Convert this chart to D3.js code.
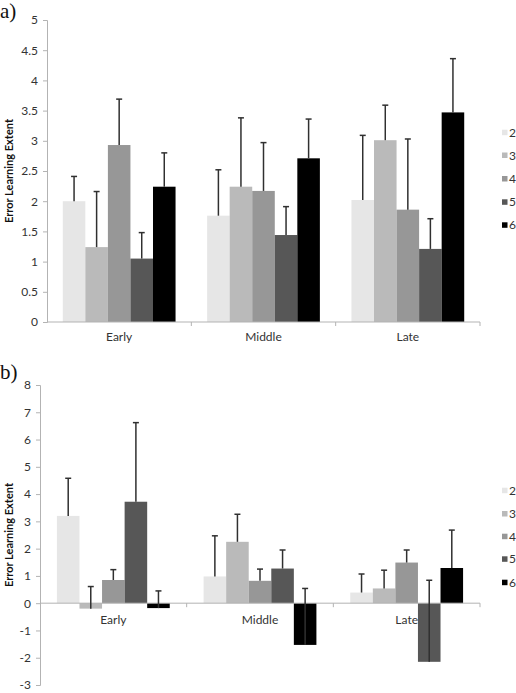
<!DOCTYPE html>
<html>
<head>
<meta charset="utf-8">
<script src="https://cdn.jsdelivr.net/npm/d3@7"></script>
<style>
  html, body { margin: 0; padding: 0; background: #fff; }
  svg { display: block; }
  text { font-family: Lato, "Open Sans", sans-serif; }
</style>
</head>
<body>
<svg id="chart" width="516" height="693"></svg>
<script>
// ---- data ----
const categories = ["Early", "Middle", "Late"];
const seriesNames = ["2", "3", "4", "5", "6"];
const seriesColors = ["#e6e6e6", "#bababa", "#979797", "#575757", "#000000"];

// panel a)
const aMeans2 = [2.00, 1.76, 2.02];
const aMeans3 = [1.24, 2.24, 3.01];
const aMeans4 = [2.93, 2.17, 1.86];
const aMeans5 = [1.05, 1.44, 1.21];
const aMeans6 = [2.24, 2.71, 3.47];
const aErr2 = [0.41, 0.76, 1.07];
const aErr3 = [0.92, 1.14, 0.58];
const aErr4 = [0.76, 0.80, 1.17];
const aErr5 = [0.43, 0.47, 0.50];
const aErr6 = [0.56, 0.65, 0.89];
const aTicks = [0, 0.5, 1, 1.5, 2, 2.5, 3, 3.5, 4, 4.5, 5];

// panel b)
const bMeans2 = [3.20, 0.98, 0.39];
const bMeans3 = [-0.20, 2.25, 0.54];
const bMeans4 = [0.85, 0.82, 1.49];
const bMeans5 = [3.72, 1.27, -2.15];
const bMeans6 = [-0.18, -1.53, 1.29];
const bErr2 = [1.38, 1.49, 0.68];
const bErr3 = [0.81, 1.01, 0.67];
const bErr4 = [0.38, 0.43, 0.46];
const bErr5 = [2.90, 0.68, 2.99];
const bErr6 = [0.63, 2.07, 1.39];
const bTicks = [-3, -2, -1, 0, 1, 2, 3, 4, 5, 6, 7, 8];

const yTitle = "Error Learning Extent";

const svg = d3.select("#chart");

function panel(opts) {
  const { label, labelY, means, errs, ticks, yDomain, yRange, xRange, axisLabelPad, innerPad, catLabelY, legendYs } = opts;
  const g = svg.append("g");

  const x0 = d3.scaleBand().domain(categories).range(xRange).padding(0);
  const x1 = d3.scaleBand().domain(seriesNames).range([0, x0.bandwidth()]).paddingInner(0).paddingOuter(innerPad);
  const y = d3.scaleLinear().domain(yDomain).range(yRange);

  const rows = [];
  seriesNames.forEach((s, si) => {
    categories.forEach((c, ci) => {
      rows.push({ s, si, c, v: means[si][ci], e: errs[si][ci] });
    });
  });

  // panel label
  g.append("text").attr("x", 0).attr("y", labelY)
    .style("font-family", "'Liberation Serif', 'DejaVu Serif', serif")
    .attr("font-size", 21).attr("fill", "#111").text(label);

  // y axis
  const yAxis = d3.axisLeft(y).tickValues(ticks).tickSize(4).tickPadding(axisLabelPad)
    .tickFormat(d => String(d));
  const ya = g.append("g").attr("transform", `translate(${xRange[0]},0)`).call(yAxis);
  ya.select(".domain").attr("stroke", "#b3b3b3").attr("stroke-width", 1);
  ya.selectAll(".tick line").attr("stroke", "#b3b3b3");
  ya.selectAll(".tick text").attr("fill", "#333").attr("font-size", 12)
    .style("font-family", "Lato, 'Open Sans', sans-serif");

  // y title
  const yMid = (yRange[0] + yRange[1]) / 2;
  g.append("text")
    .attr("transform", `translate(13,${yMid}) rotate(-90)`)
    .attr("text-anchor", "middle")
    .attr("font-size", 11).attr("font-weight", "bold").attr("fill", "#111")
    .text(yTitle);

  // bars
  g.append("g").selectAll("rect").data(rows).join("rect")
    .attr("x", d => x0(d.c) + x1(d.s))
    .attr("width", x1.bandwidth())
    .attr("y", d => y(Math.max(0, d.v)))
    .attr("height", d => Math.abs(y(d.v) - y(0)))
    .attr("fill", d => seriesColors[d.si]);

  // x axis line at zero
  const y0 = y(0);
  g.append("line").attr("x1", xRange[0]).attr("x2", xRange[1])
    .attr("y1", y0).attr("y2", y0).attr("stroke", "#b3b3b3").attr("stroke-width", 1);
  // category boundary ticks
  const bounds = categories.slice(1).map(c => x0(c)).concat([xRange[1]]);
  g.append("g").selectAll("line").data(bounds).join("line")
    .attr("x1", d => d).attr("x2", d => d)
    .attr("y1", y0).attr("y2", y0 + 4)
    .attr("stroke", "#b3b3b3");

  // category labels
  g.append("g").selectAll("text").data(categories).join("text")
    .attr("x", d => x0(d) + x0.bandwidth() / 2)
    .attr("y", catLabelY)
    .attr("text-anchor", "middle")
    .attr("font-size", 12).attr("fill", "#333")
    .text(d => d);

  // error bars
  const eg = g.append("g").attr("stroke", "#303030").attr("stroke-width", 1.5);
  const capW = 6;
  rows.forEach(d => {
    const cx = x0(d.c) + x1(d.s) + x1.bandwidth() / 2;
    eg.append("line").attr("x1", cx).attr("x2", cx)
      .attr("y1", y(d.v)).attr("y2", y(d.v + d.e));
    eg.append("line").attr("x1", cx - capW / 2).attr("x2", cx + capW / 2)
      .attr("y1", y(d.v + d.e)).attr("y2", y(d.v + d.e));
  });

  // legend
  const lg = g.append("g");
  seriesNames.forEach((s, i) => {
    lg.append("rect").attr("x", 502).attr("y", legendYs[i] - 3)
      .attr("width", 5.5).attr("height", 5.5).attr("fill", seriesColors[i]);
    lg.append("text").attr("x", 509).attr("y", legendYs[i] + 4)
      .attr("font-size", 12).attr("fill", "#333").text(s);
  });
}

panel({
  label: "a)", labelY: 18,
  means: [aMeans2, aMeans3, aMeans4, aMeans5, aMeans6],
  errs: [aErr2, aErr3, aErr4, aErr5, aErr6],
  ticks: aTicks, yDomain: [0, 5], yRange: [322, 20], xRange: [47, 480],
  axisLabelPad: 5, innerPad: 0.7, catLabelY: 341,
  legendYs: [132.7, 155.5, 179, 202.3, 225.3]
});

panel({
  label: "b)", labelY: 379,
  means: [bMeans2, bMeans3, bMeans4, bMeans5, bMeans6],
  errs: [bErr2, bErr3, bErr4, bErr5, bErr6],
  ticks: bTicks, yDomain: [-3, 8], yRange: [685, 385], xRange: [40, 480],
  axisLabelPad: 5, innerPad: 0.75, catLabelY: 624,
  legendYs: [490.7, 514, 536.7, 559.3, 582.7]
});
</script>
</body>
</html>
